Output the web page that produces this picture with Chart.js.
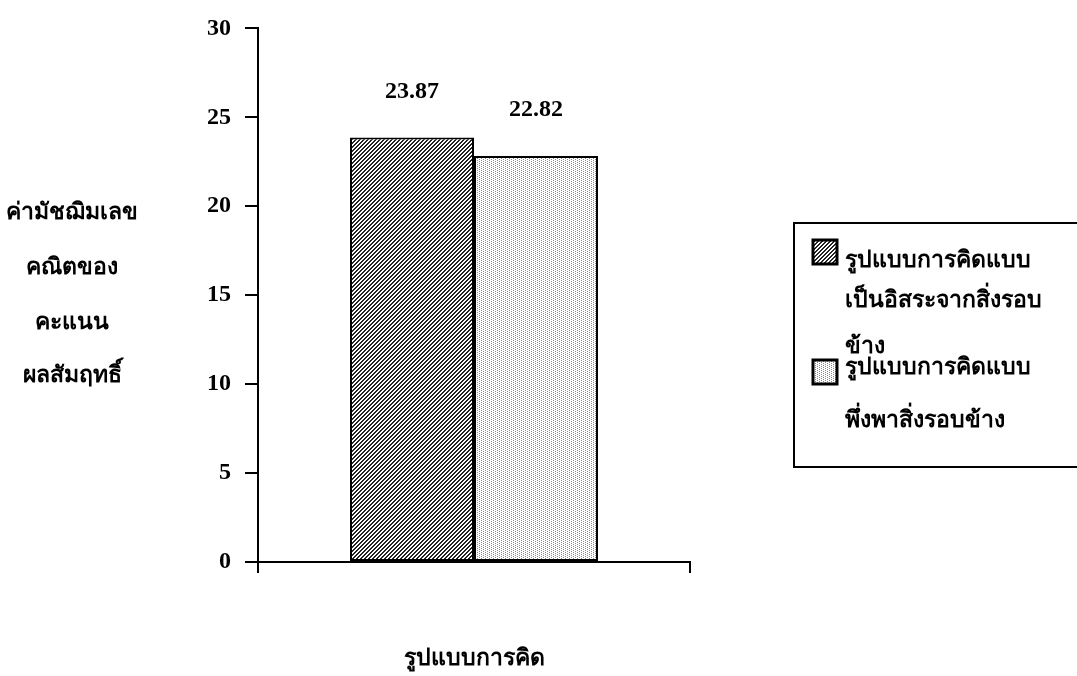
<!DOCTYPE html>
<html>
<head>
<meta charset="utf-8">
<script src="https://cdn.jsdelivr.net/npm/chart.js@4"></script>
<style>
  html, body { margin: 0; padding: 0; background: #fff; }
  #wrap { width: 1077px; height: 676px; position: relative; }
</style>
</head>
<body>
<div id="wrap"><canvas id="c" width="1077" height="676"></canvas></div>
<script>
const categories = ['รูปแบบการคิด'];
const seriesNames = [
  ['รูปแบบการคิดแบบ', 'เป็นอิสระจากสิ่งรอบ', 'ข้าง'],
  ['รูปแบบการคิดแบบ', 'พึ่งพาสิ่งรอบข้าง']
];
const independentValues = [23.87];
const dependentValues = [22.82];
const yTitleLines = ['ค่ามัชฌิมเลข', 'คณิตของ', 'คะแนน', 'ผลสัมฤทธิ์'];
const xTitle = 'รูปแบบการคิด';

const FONT = '"Liberation Serif", "DejaVu Serif", serif';

// ลายแรเงาแบบเส้นทแยง (แท่งแรก)
function hatchPattern() {
  const c = document.createElement('canvas');
  c.width = 4; c.height = 4;
  const g = c.getContext('2d');
  g.fillStyle = '#fff'; g.fillRect(0, 0, 4, 4);
  g.fillStyle = '#222';
  const rows = ['0011', '0110', '1100', '1001'];
  rows.forEach((r, y) => [...r].forEach((v, x) => { if (v === '1') g.fillRect(x, y, 1, 1); }));
  return g.createPattern(c, 'repeat');
}

// ลายจุดเทาอ่อน (แท่งที่สอง)
function dotPattern() {
  const c = document.createElement('canvas');
  c.width = 4; c.height = 4;
  const g = c.getContext('2d');
  g.fillStyle = '#fff'; g.fillRect(0, 0, 4, 4);
  g.fillStyle = '#8a8a8a';
  [[1, 0], [1, 2], [3, 1], [3, 3]].forEach(([x, y]) => g.fillRect(x, y, 1, 1));
  return g.createPattern(c, 'repeat');
}

const fills = [hatchPattern(), dotPattern()];

const extrasPlugin = {
  id: 'extras',
  afterDraw(chart) {
    const ctx = chart.ctx;
    ctx.save();
    ctx.fillStyle = '#000';
    ctx.textAlign = 'center';
    ctx.textBaseline = 'middle';

    // ค่าบนแท่ง
    ctx.font = 'bold 24px ' + FONT;
    chart.data.datasets.forEach((ds, i) => {
      chart.getDatasetMeta(i).data.forEach((bar, j) => {
        ctx.fillText(ds.data[j].toFixed(2), bar.x, bar.y - 46);
      });
    });

    // ชื่อแกน y
    ctx.font = 'bold 23px ' + FONT;
    const yPos = [213, 268, 323, 376];
    yTitleLines.forEach((t, k) => ctx.fillText(t, 72, yPos[k]));

    // ชื่อแกน x
    ctx.fillText(xTitle, (chart.chartArea.left + chart.chartArea.right) / 2, 659);

    // คำอธิบายสัญลักษณ์
    ctx.lineWidth = 2;
    ctx.strokeStyle = '#000';
    ctx.strokeRect(794, 223, 300, 244);
    const legendRows = [
      { y: 252, lines: [261, 301, 347] },
      { y: 372, lines: [368, 421] }
    ];
    ctx.textAlign = 'left';
    chart.data.datasets.forEach((ds, i) => {
      const lr = legendRows[i];
      ctx.fillStyle = ds.backgroundColor;
      ctx.fillRect(813, lr.y - 12, 24, 24);
      ctx.lineWidth = 3;
      ctx.strokeRect(813, lr.y - 12, 24, 24);
      ctx.fillStyle = '#000';
      ds.label.forEach((t, k) => ctx.fillText(t, 845, lr.lines[k]));
    });
    ctx.restore();
  }
};

new Chart(document.getElementById('c'), {
  type: 'bar',
  data: {
    labels: categories,
    datasets: [
      {
        label: seriesNames[0],
        data: independentValues,
        backgroundColor: fills[0],
        borderColor: '#000',
        borderWidth: 2,
        borderSkipped: false
      },
      {
        label: seriesNames[1],
        data: dependentValues,
        backgroundColor: fills[1],
        borderColor: '#000',
        borderWidth: 2,
        borderSkipped: false
      }
    ]
  },
  options: {
    responsive: false,
    animation: false,
    devicePixelRatio: 1,
    layout: { padding: { left: 198, right: 387, top: 26, bottom: 84 } },
    datasets: { bar: { categoryPercentage: 0.574, barPercentage: 1 } },
    scales: {
      x: {
        grid: { display: true, drawOnChartArea: false, drawTicks: true, tickLength: 11, color: '#000', lineWidth: 2, offset: true },
        border: { display: true, color: '#000', width: 2 },
        ticks: { callback: () => '' },
        afterFit: (scale) => { scale.height = 30; }
      },
      y: {
        min: 0,
        max: 30,
        grid: { display: true, drawOnChartArea: false, drawTicks: true, tickLength: 13, color: '#000', lineWidth: 2 },
        border: { display: true, color: '#000', width: 2 },
        ticks: {
          stepSize: 5,
          color: '#000',
          padding: 14,
          font: { family: FONT, size: 24, weight: 'bold' }
        },
        afterFit: (scale) => { scale.width = 60; }
      }
    },
    plugins: {
      legend: { display: false },
      tooltip: { enabled: false }
    }
  },
  plugins: [extrasPlugin]
});
</script>
</body>
</html>
